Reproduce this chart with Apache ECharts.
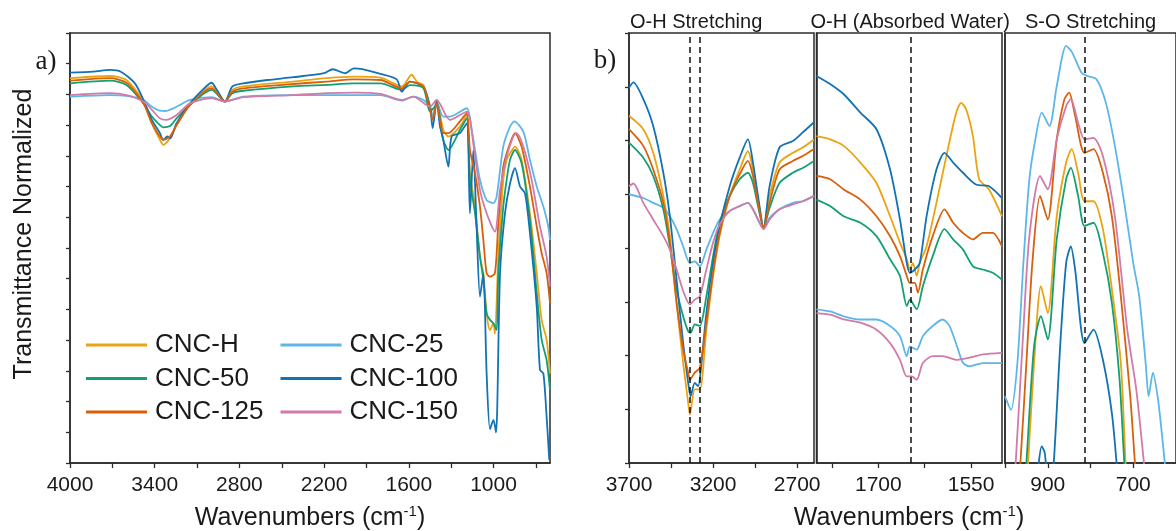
<!DOCTYPE html>
<html>
<head>
<meta charset="utf-8">
<script src="https://cdn.jsdelivr.net/npm/echarts@6/dist/echarts.min.js"></script>
<style>html,body{margin:0;padding:0;background:#fff;}#c{width:1176px;height:531px;}</style>
</head>
<body>
<div id="c"></div>
<script>
// ---------- series names / colours ----------
const names = ['CNC-H', 'CNC-25', 'CNC-50', 'CNC-100', 'CNC-125', 'CNC-150'];
const colors = ['#EBA312', '#5DB6EA', '#12A072', '#1173B5', '#D8600A', '#D07BAA'];

// ---------- panel a: full spectrum (wavenumber, normalized transmittance) ----------
const a_H = [[4000,12.53],[3717,12.6],[3600,12.47],[3480,11.77],[3420,11.06],[3363,10.52],[3339,10.36],[3292,10.57],[3245,11.0],[3150,11.66],[2997,12.26],[2902,11.77],[2850,12.15],[2772,12.26],[2418,12.42],[2182,12.53],[1990,12.58],[1800,12.55],[1650,12.26],[1580,12.64],[1540,12.4],[1497,12.31],[1450,11.6],[1431,11.2],[1403,11.82],[1356,10.84],[1320,10.63],[1238,10.95],[1190,11.33],[1167,9.43],[1131,8.35],[1096,6.72],[1072,6.18],[1049,4.87],[1025,4.33],[1001,4.55],[990,4.2],[966,6.72],[931,9.22],[907,9.87],[883,10.08],[848,10.3],[801,9.87],[742,8.13],[694,6.18],[659,4.66],[624,4.01],[600,2.92]];
const a_25 = [[4000,11.93],[3717,11.98],[3600,11.95],[3480,11.82],[3420,11.6],[3363,11.47],[3320,11.46],[3245,11.6],[3150,11.82],[2997,11.91],[2902,11.77],[2772,11.93],[2418,11.98],[1800,11.98],[1650,11.8],[1568,11.93],[1497,11.82],[1450,11.6],[1431,11.28],[1403,11.77],[1356,11.28],[1308,11.28],[1190,11.55],[1155,10.84],[1131,10.19],[1096,9.22],[1049,8.56],[1001,8.46],[978,8.67],[931,10.3],[883,10.95],[853,11.12],[789,10.79],[742,9.87],[694,9.0],[647,8.35],[612,7.7],[600,7.26]];
const a_50 = [[4000,12.36],[3717,12.45],[3600,12.31],[3480,11.71],[3420,11.28],[3363,11.0],[3339,10.93],[3292,10.97],[3245,11.22],[3150,11.66],[2997,12.15],[2902,11.77],[2850,12.04],[2772,12.12],[2418,12.26],[2182,12.31],[1990,12.36],[1800,12.36],[1650,12.15],[1592,12.3],[1497,12.2],[1450,11.44],[1403,11.66],[1356,10.52],[1320,10.19],[1238,10.84],[1190,11.22],[1167,9.22],[1131,8.13],[1096,6.72],[1072,5.96],[1049,4.87],[1025,4.66],[1001,4.55],[978,4.33],[966,6.18],[931,8.35],[907,9.22],[883,9.87],[848,10.19],[801,9.76],[742,7.91],[694,5.53],[659,4.01],[624,3.35],[600,2.38]];
const a_100 = [[4000,12.71],[3835,12.74],[3717,12.8],[3640,12.74],[3540,12.36],[3480,11.82],[3420,11.17],[3363,10.74],[3340,10.52],[3310,10.63],[3290,10.57],[3245,11.06],[3150,11.71],[3050,12.2],[2997,12.38],[2960,12.15],[2902,11.77],[2850,12.26],[2772,12.36],[2600,12.47],[2418,12.56],[2200,12.69],[2140,12.82],[2050,12.69],[1990,12.85],[1930,12.82],[1820,12.69],[1686,12.49],[1650,12.09],[1592,12.42],[1497,12.25],[1450,11.6],[1431,10.9],[1403,11.77],[1379,10.95],[1356,10.52],[1320,9.65],[1297,10.63],[1238,10.74],[1190,11.06],[1167,8.13],[1143,10.19],[1120,7.7],[1096,5.42],[1072,6.18],[1049,2.92],[1025,1.1],[1001,1.4],[982,1.0],[954,6.18],[919,8.13],[883,9.1],[848,9.6],[812,9.0],[777,8.78],[742,7.48],[694,5.09],[671,3.03],[647,2.92],[624,1.51],[605,0.1]];
const a_125 = [[4000,12.45],[3717,12.53],[3600,12.38],[3480,11.71],[3420,11.06],[3363,10.63],[3339,10.52],[3292,10.63],[3245,11.0],[3150,11.66],[2997,12.2],[2902,11.77],[2850,12.09],[2772,12.2],[2418,12.34],[2182,12.42],[1990,12.49],[1800,12.47],[1650,12.2],[1592,12.42],[1497,12.25],[1450,11.5],[1431,11.17],[1403,11.71],[1356,10.74],[1320,10.74],[1238,11.12],[1190,11.39],[1167,10.19],[1131,9.43],[1096,8.35],[1072,7.26],[1049,6.18],[1025,6.07],[990,6.18],[966,7.8],[931,9.65],[883,10.41],[848,10.74],[801,10.3],[742,9.0],[694,7.7],[659,6.83],[624,6.18],[600,5.2]];
const a_150 = [[4000,11.98],[3717,12.04],[3600,11.98],[3480,11.77],[3420,11.5],[3363,11.22],[3320,11.17],[3245,11.33],[3150,11.71],[2997,11.88],[2902,11.77],[2772,11.91],[2418,11.98],[2182,12.04],[1990,12.06],[1800,12.02],[1650,11.82],[1568,11.93],[1450,11.6],[1403,11.82],[1308,11.17],[1190,11.44],[1140,10.3],[1096,8.89],[1049,8.13],[990,7.53],[954,8.89],[907,9.97],[860,10.63],[836,10.74],[789,10.3],[730,9.22],[671,7.7],[624,6.72],[600,5.74]];

// ---------- panel b1: O-H stretching ----------
const b1_H = [[3700,6.46],[3615,6.21],[3556,5.77],[3496,4.97],[3457,4.22],[3417,2.98],[3378,1.86],[3348,1.12],[3338,0.9],[3309,1.37],[3279,1.37],[3240,2.48],[3200,3.48],[3161,4.22],[3101,4.97],[3042,5.46],[2993,5.8],[2963,5.46],[2933,4.9],[2900,4.38],[2864,4.97],[2805,5.59],[2726,5.77],[2667,5.87],[2600,6.02]];
const b1_25 = [[3700,5.0],[3615,4.93],[3556,4.84],[3496,4.75],[3457,4.59],[3417,4.35],[3378,4.03],[3338,3.72],[3309,3.75],[3279,3.66],[3240,3.97],[3200,4.28],[3161,4.53],[3101,4.69],[3042,4.78],[2993,4.84],[2963,4.72],[2933,4.53],[2900,4.35],[2864,4.56],[2805,4.72],[2726,4.84],[2667,4.87],[2600,4.97]];
const b1_50 = [[3700,5.96],[3615,5.68],[3556,5.34],[3496,4.72],[3457,4.03],[3417,3.23],[3378,2.73],[3348,2.45],[3334,2.42],[3309,2.58],[3279,2.55],[3240,3.1],[3200,3.85],[3161,4.47],[3101,4.97],[3042,5.28],[2993,5.4],[2963,5.21],[2933,4.78],[2900,4.38],[2864,4.75],[2805,5.21],[2726,5.4],[2667,5.49],[2600,5.62]];
const b1_100 = [[3700,6.98],[3674,7.08],[3615,6.77],[3556,6.27],[3496,5.4],[3457,4.59],[3417,3.41],[3378,2.23],[3348,1.49],[3334,1.24],[3309,1.49],[3289,1.43],[3269,1.86],[3240,2.79],[3200,3.72],[3161,4.41],[3101,5.15],[3042,5.68],[2993,6.02],[2963,5.59],[2933,4.97],[2900,4.38],[2864,5.15],[2805,5.87],[2726,5.99],[2667,6.15],[2600,6.34]];
const b1_125 = [[3700,6.21],[3615,5.9],[3556,5.46],[3496,4.84],[3457,4.1],[3417,2.98],[3378,2.11],[3348,1.68],[3338,1.55],[3309,1.68],[3279,1.77],[3240,2.61],[3200,3.54],[3161,4.28],[3101,4.97],[3042,5.37],[2993,5.62],[2963,5.34],[2933,4.84],[2900,4.38],[2864,4.84],[2805,5.46],[2726,5.62],[2667,5.71],[2600,5.84]];
const b1_150 = [[3700,5.15],[3674,5.2],[3615,4.84],[3556,4.53],[3496,4.22],[3457,3.97],[3417,3.6],[3378,3.2],[3338,2.95],[3309,3.04],[3279,3.1],[3240,3.6],[3200,4.1],[3161,4.44],[3101,4.69],[3042,4.78],[2993,4.84],[2963,4.72],[2933,4.53],[2900,4.35],[2864,4.53],[2805,4.72],[2726,4.81],[2667,4.87],[2600,4.97]];

// ---------- panel b2: O-H (absorbed water) ----------
const b2_H = [[1800,6.08],[1778,6.02],[1756,5.9],[1729,5.59],[1703,5.21],[1681,4.59],[1665,4.1],[1654,3.79],[1649,3.6],[1644,3.72],[1638,3.48],[1633,3.72],[1622,4.03],[1606,4.84],[1590,5.71],[1574,6.52],[1566,6.7],[1558,6.58],[1547,6.08],[1537,5.28],[1521,5.09],[1500,4.59]];
const b2_25 = [[1800,2.86],[1778,2.82],[1756,2.73],[1729,2.67],[1703,2.67],[1681,2.55],[1665,2.36],[1654,1.99],[1649,2.17],[1638,2.11],[1628,2.36],[1612,2.55],[1596,2.67],[1585,2.55],[1571,2.11],[1563,1.86],[1553,1.8],[1531,1.86],[1500,1.86]];
const b2_50 = [[1800,4.9],[1778,4.78],[1756,4.59],[1729,4.47],[1703,4.22],[1681,3.79],[1665,3.48],[1654,2.92],[1649,3.04],[1638,2.86],[1628,3.29],[1612,3.85],[1593,4.35],[1579,4.16],[1563,3.97],[1547,3.66],[1531,3.6],[1515,3.54],[1500,3.41]];
const b2_100 = [[1800,7.2],[1778,7.05],[1756,6.86],[1729,6.52],[1703,6.21],[1681,5.46],[1665,4.53],[1654,3.72],[1649,3.54],[1641,3.6],[1633,3.72],[1622,4.59],[1606,5.46],[1593,5.77],[1579,5.59],[1563,5.4],[1542,5.18],[1521,5.15],[1500,4.93]];
const b2_125 = [[1800,5.34],[1778,5.28],[1756,5.09],[1729,4.9],[1703,4.59],[1681,4.22],[1665,3.85],[1654,3.48],[1649,3.35],[1641,3.35],[1636,3.17],[1628,3.6],[1612,4.22],[1593,4.72],[1579,4.47],[1563,4.28],[1547,4.16],[1531,4.28],[1515,4.28],[1500,4.03]];
const b2_150 = [[1800,2.79],[1778,2.76],[1756,2.67],[1729,2.61],[1703,2.48],[1681,2.23],[1665,1.92],[1654,1.61],[1646,1.61],[1638,1.55],[1628,1.86],[1612,1.99],[1596,1.99],[1574,1.92],[1553,1.96],[1531,2.02],[1500,2.05]];

// ---------- panel b3: S-O stretching ----------
const b3_H = [[950,-0.5],[946,0],[932,1.86],[916,3.29],[900,2.79],[879,4.59],[857,5.59],[844,5.84],[829,5.4],[814,4.87],[793,4.87],[771,4.35],[750,3.23],[729,1.86],[718,0],[714,-0.5]];
const b3_25 = [[1000,1.24],[986,0.99],[971,1.86],[957,3.72],[943,5.28],[929,6.02],[914,6.52],[896,6.27],[879,7.01],[857,7.76],[843,7.64],[821,7.26],[807,7.2],[786,7.14],[764,6.7],[743,5.9],[721,4.84],[700,3.72],[686,3.1],[671,1.86],[664,1.24],[654,1.68],[643,1.24],[634,0.62],[620,-0.5]];
const b3_50 = [[955,-0.5],[950,0],[932,2.17],[916,2.73],[900,2.3],[879,4.16],[857,5.28],[846,5.49],[829,4.97],[814,4.41],[793,4.47],[771,3.91],[750,2.98],[732,1.55],[721,0],[717,-0.5]];
const b3_100 = [[925,-0.5],[921,0],[914,0.31],[907,0.19],[900,-0.3],[893,-0.3],[886,0],[871,2.17],[857,3.72],[846,4.03],[836,3.6],[814,2.23],[793,2.48],[771,1.92],[750,0.93],[739,0],[735,-0.5]];
const b3_125 = [[970,-0.5],[964,0],[950,1.86],[936,3.72],[918,4.97],[900,4.53],[879,6.02],[861,6.77],[850,6.89],[836,6.46],[814,5.77],[793,5.84],[771,5.4],[750,4.59],[729,3.1],[707,1.24],[696,0],[690,-0.5]];
const b3_150 = [[980,-0.5],[975,0],[957,2.48],[943,4.22],[918,5.34],[900,5.09],[879,6.02],[857,6.64],[846,6.77],[829,6.33],[814,6.02],[793,6.05],[771,5.71],[743,4.59],[714,2.48],[693,1.37],[675,0],[670,-0.5]];

// ---------- ticks, labels, reference lines ----------
const ticksA = [4000,3700,3400,3100,2800,2500,2200,1900,1600,1300,1000,700];
const labelsA = [4000,3400,2800,2200,1600,1000];
const ticksB1 = [3700,3450,3200,2950,2700];
const labelsB1 = [3700,3200,2700];
const ticksB2 = [1775,1700,1625,1550];
const labelsB2 = [1700,1550];
const ticksB3 = [1000,900,800,700];
const labelsB3 = [900,700];
const dashB1 = [3338, 3280];
const dashB2 = [1647];
const dashB3 = [814];
const subTitles = ['O-H Stretching', 'O-H (Absorbed Water)', 'S-O Stretching'];

const panelData = [
  [a_H, a_25, a_50, a_100, a_125, a_150],
  [b1_H, b1_25, b1_50, b1_100, b1_125, b1_150],
  [b2_H, b2_25, b2_50, b2_100, b2_125, b2_150],
  [b3_H, b3_25, b3_50, b3_100, b3_125, b3_150]
];
const dashes = [null, dashB1, dashB2, dashB3];

const FONT = '"Liberation Sans", Arial, sans-serif';
const AX = '#2b2b2b';
const TXT = '#1a1a1a';

const grids = [
  {left: 70, top: 33, width: 480, height: 430},
  {left: 629, top: 33, width: 185, height: 430},
  {left: 816.5, top: 33, width: 185.5, height: 430},
  {left: 1005, top: 33, width: 187, height: 430}
].map(g => Object.assign(g, {show: true, borderColor: AX, borderWidth: 1.5, containLabel: false}));

function xAx(gi, min, max, ticks, labels) {
  return {
    type: 'value', gridIndex: gi, min: min, max: max, inverse: true,
    axisLine: {show: true, onZero: false, lineStyle: {color: AX, width: 1.5}},
    axisTick: {show: true, inside: false, length: 5, customValues: ticks, lineStyle: {color: AX, width: 1.3}},
    axisLabel: {show: true, customValues: labels, fontSize: 21, color: TXT, fontFamily: FONT, margin: 12,
                formatter: v => String(v)},
    splitLine: {show: false}
  };
}
function yAx(gi, max, ticks) {
  return {
    type: 'value', gridIndex: gi, min: 0, max: max, interval: 1,
    axisLine: {show: true, onZero: false, lineStyle: {color: AX, width: 1.5}},
    axisTick: {show: ticks, inside: false, length: 4, lineStyle: {color: AX, width: 1.3}},
    axisLabel: {show: false},
    splitLine: {show: false}
  };
}

const xAxes = [
  xAx(0, 600, 4000, ticksA, labelsA),
  xAx(1, 2600, 3700, ticksB1, labelsB1),
  xAx(2, 1500, 1800, ticksB2, labelsB2),
  xAx(3, 600, 1000, ticksB3, labelsB3)
];
const yAxes = [yAx(0, 14, true), yAx(1, 8, true), yAx(2, 8, false), yAx(3, 8, false)];

const series = [];
panelData.forEach((set, gi) => {
  set.forEach((d, si) => {
    const s = {
      name: names[si], type: 'line', xAxisIndex: gi, yAxisIndex: gi,
      data: d, showSymbol: false, symbol: 'none', smooth: 0.25,
      lineStyle: {width: 1.8, color: colors[si]}, itemStyle: {color: colors[si]},
      clip: true, silent: true
    };
    if (si === 0 && dashes[gi]) {
      s.markLine = {
        silent: true, symbol: 'none', animation: false,
        label: {show: false},
        lineStyle: {type: [6, 4], color: '#111', width: 1.5},
        data: dashes[gi].map(v => ({xAxis: v}))
      };
    }
    series.push(s);
  });
});

function legendCol(left, items) {
  return {
    data: items, orient: 'vertical', left: left, top: 327,
    icon: 'rect', itemWidth: 61, itemHeight: 3, itemGap: 7.5,
    selectedMode: false,
    textStyle: {fontSize: 26, lineHeight: 26, color: TXT, fontFamily: FONT, padding: [0, 0, 0, 3]}
  };
}

const sup = {fontSize: 15, fontFamily: FONT, fill: TXT, verticalAlign: 'top', lineHeight: 15, padding: [1, 0, 0, 0]};
function axisTitle(x) {
  return {
    type: 'text', x: x, y: 518,
    style: {text: 'Wavenumbers (cm{sup|-1})', fontSize: 25, fontFamily: FONT, fill: TXT,
            align: 'center', verticalAlign: 'middle', lineHeight: 30, rich: {sup: sup}}
  };
}

const option = {
  animation: false,
  backgroundColor: '#fff',
  grid: grids,
  xAxis: xAxes,
  yAxis: yAxes,
  legend: [legendCol(81, ['CNC-H', 'CNC-50', 'CNC-125']), legendCol(275.5, ['CNC-25', 'CNC-100', 'CNC-150'])],
  series: series,
  graphic: [
    axisTitle(310),
    axisTitle(909),
    {type: 'text', x: 24, y: 234, rotation: Math.PI / 2,
     style: {text: 'Transmittance Normalized', fontSize: 25, fontFamily: FONT, fill: TXT, align: 'center', verticalAlign: 'middle'}},
    {type: 'text', x: 46, y: 62, style: {text: 'a)', fontSize: 27, fontFamily: '"Liberation Serif", "Times New Roman", serif', fill: TXT, align: 'center', verticalAlign: 'middle'}},
    {type: 'text', x: 605, y: 61, style: {text: 'b)', fontSize: 27, fontFamily: '"Liberation Serif", "Times New Roman", serif', fill: TXT, align: 'center', verticalAlign: 'middle'}},
    {type: 'text', x: 630, y: 22, style: {text: subTitles[0], fontSize: 20, fontFamily: FONT, fill: TXT, align: 'left', verticalAlign: 'middle'}},
    {type: 'text', x: 810.5, y: 22, style: {text: subTitles[1], fontSize: 20, fontFamily: FONT, fill: TXT, align: 'left', verticalAlign: 'middle'}},
    {type: 'text', x: 1025, y: 22, style: {text: subTitles[2], fontSize: 20, fontFamily: FONT, fill: TXT, align: 'left', verticalAlign: 'middle'}}
  ]
};

const chart = echarts.init(document.getElementById('c'), null, {renderer: 'canvas'});
chart.setOption(option);
</script>
</body>
</html>
